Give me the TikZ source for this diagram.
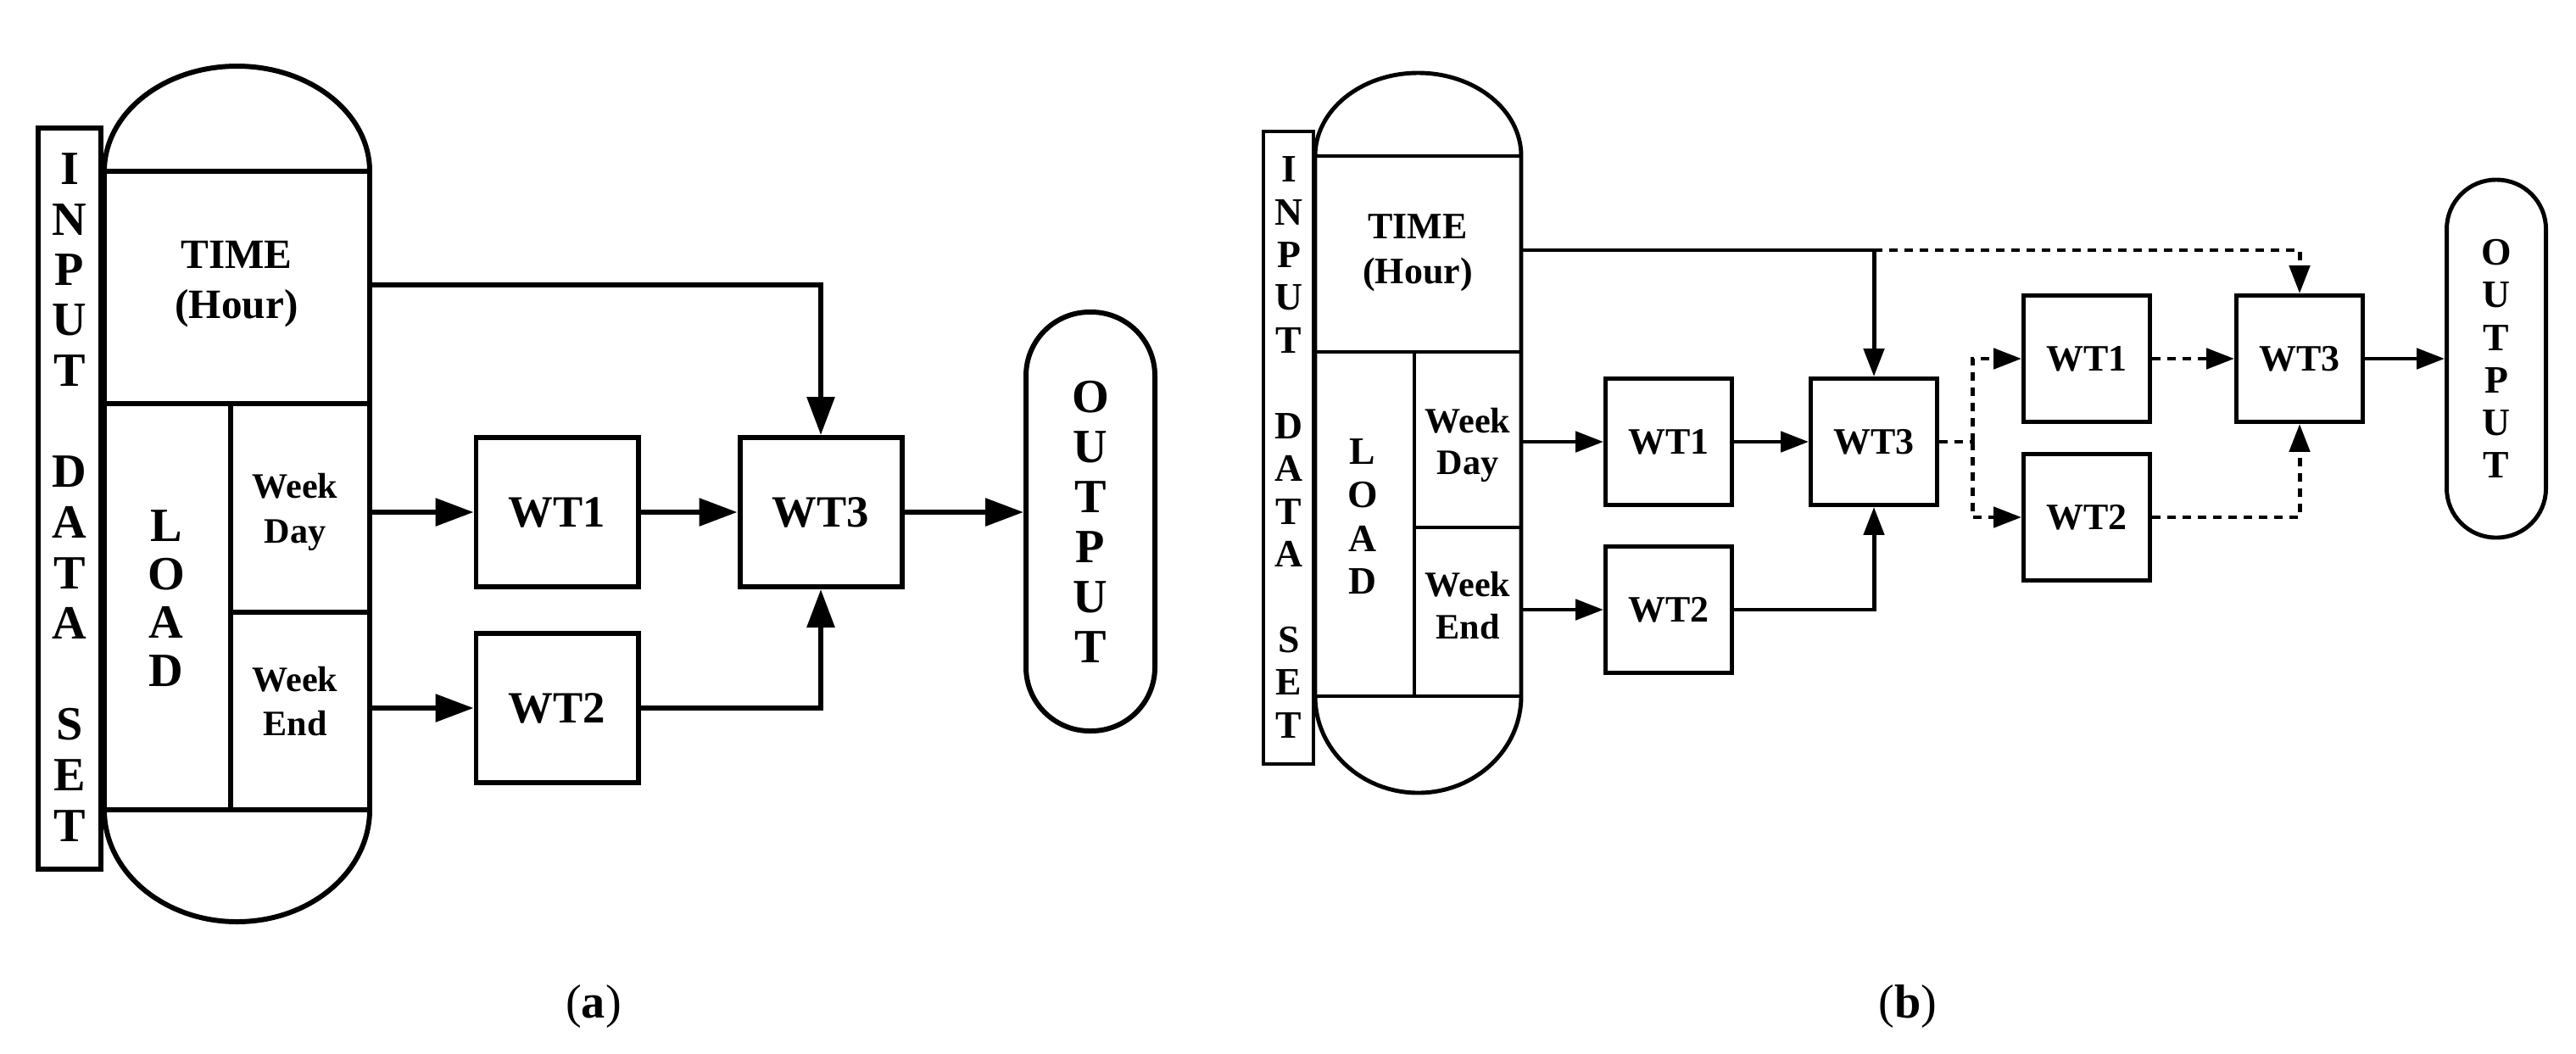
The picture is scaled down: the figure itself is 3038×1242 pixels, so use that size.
\documentclass[tikz,border=0pt]{standalone}
\usepackage{fontspec}
\setmainfont{Liberation Serif}
\usetikzlibrary{arrows.meta}

\tikzset{
  linea/.style={line width=1.7pt},
  lineb/.style={line width=1.4pt},
  arra/.style={linea,-{Triangle[length=4.5mm,width=3.2mm]}},
  arrb/.style={lineb,-{Triangle[length=3.3mm,width=2.4mm]}},
  dots/.style={dash pattern=on 1mm off 0.8mm},
  boxa/.style={draw,linea,minimum width=19.1mm,minimum height=17.6mm,inner sep=0pt,font=\bfseries\fontsize{15}{15}\selectfont},
  boxb/.style={draw,lineb,minimum width=14.9mm,minimum height=14.9mm,inner sep=0pt,font=\bfseries\fontsize{12.5}{12.5}\selectfont},
  lettera/.style={font=\bfseries\fontsize{16}{16}\selectfont,inner sep=0pt},
  letterb/.style={font=\bfseries\fontsize{13}{13}\selectfont,inner sep=0pt},
}

\begin{document}
\begin{tikzpicture}[x=0.1mm,y=-0.1mm]
    \useasboundingbox (0,0) rectangle (3038,1242);

    % (a)
    \draw[linea] (45,151) rectangle (119,1025);
    \foreach \ch [count=\i from 0] in {I,N,P,U,T,,D,A,T,A,,S,E,T}
        \node[lettera] at (82,199+59.6*\i) {\ch};
    \draw[linea] (123,202) -- (123,955) arc[start angle=180,end angle=0,x radius=156.5,y radius=132]
        -- (436,202) arc[start angle=0,end angle=-180,x radius=156.5,y radius=124] -- cycle;
    \draw[linea] (123,202) -- (436,202);
    \draw[linea] (123,476) -- (436,476);
    \draw[linea] (123,955) -- (436,955);
    \draw[linea] (272,476) -- (272,955);
    \draw[linea] (272,722) -- (436,722);
    \node[align=center,font=\bfseries\fontsize{14}{17}\selectfont] (timeA) at (279,335) {TIME\\(Hour)};
    \foreach \ch [count=\i from 0] in {L,O,A,D}
        \node[lettera] at (196,620+57*\i) {\ch};
    \node[align=center,font=\bfseries\fontsize{12}{15}\selectfont] (wdA) at (348,604) {Week\\Day};
    \node[align=center,font=\bfseries\fontsize{12}{15}\selectfont] (weA) at (348,827) {Week\\End};
    \coordinate (tA) at (436,336);
    \coordinate (dA) at (436,604);
    \coordinate (eA) at (436,835);

    \node[boxa] (wt1A) at (657,604) {WT1};
    \node[boxa] (wt3A) at (968,604) {WT3};
    \node[boxa] (wt2A) at (657,835) {WT2};
    \node[draw,linea,rounded corners=7.5mm,minimum width=15.2mm,minimum height=49.4mm,align=center,
          font=\bfseries\fontsize{16}{16.8}\selectfont] (outA) at (1286,615) {O\\U\\T\\P\\U\\T};

    \draw[arra] (dA) -- (wt1A.west);
    \draw[arra] (eA) -- (wt2A.west);
    \draw[arra] (wt1A) -- (wt3A);
    \draw[arra] (wt3A.east) -- (wt3A.east -| outA.west);
    \draw[arra] (tA) -| (wt3A.north);
    \draw[arra] (wt2A.east) -| (wt3A.south);
    \node[font=\fontsize{16}{16}\selectfont] (capA) at (700,1187) {(\textbf{a})};

    % (b)
    \draw[lineb] (1490,155) rectangle (1549,901);
    \foreach \ch [count=\i from 0] in {I,N,P,U,T,,D,A,T,A,,S,E,T}
        \node[letterb] at (1520,200+50.4*\i) {\ch};
    \draw[lineb] (1551,184) -- (1551,821) arc[start angle=180,end angle=0,x radius=121.5,y radius=114]
        -- (1794,184) arc[start angle=0,end angle=-180,x radius=121.5,y radius=98] -- cycle;
    \draw[lineb] (1551,184) -- (1794,184);
    \draw[lineb] (1551,415) -- (1794,415);
    \draw[lineb] (1551,821) -- (1794,821);
    \draw[lineb] (1668,415) -- (1668,821);
    \draw[lineb] (1668,622) -- (1794,622);
    \node[align=center,font=\bfseries\fontsize{12.5}{15}\selectfont] (timeB) at (1672,298) {TIME\\(Hour)};
    \foreach \ch [count=\i from 0] in {L,O,A,D}
        \node[letterb] at (1607,533+51*\i) {\ch};
    \node[align=center,font=\bfseries\fontsize{12}{14}\selectfont] (wdB) at (1731,525) {Week\\Day};
    \node[align=center,font=\bfseries\fontsize{12}{14}\selectfont] (weB) at (1731,714) {Week\\End};
    \coordinate (tB) at (1794,295);
    \coordinate (dB) at (1794,521);
    \coordinate (eB) at (1794,719);

    \node[boxb] (wt1B) at (1968,521) {WT1};
    \node[boxb] (wt3B) at (2210,521) {WT3};
    \node[boxb] (wt2B) at (1968,719) {WT2};
    \node[boxb] (wt1C) at (2461,423) {WT1};
    \node[boxb] (wt3C) at (2712,423) {WT3};
    \node[boxb] (wt2C) at (2461,610) {WT2};
    \node[draw,lineb,rounded corners=5.8mm,minimum width=11.7mm,minimum height=42.2mm,align=center,
          font=\bfseries\fontsize{13}{14.3}\selectfont] (outB) at (2944,423) {O\\U\\T\\P\\U\\T};
    \coordinate (jB) at (2210,295);
    \coordinate (sB) at (2326,521);

    \draw[arrb] (dB) -- (wt1B.west);
    \draw[arrb] (eB) -- (wt2B.west);
    \draw[arrb] (wt1B) -- (wt3B);
    \draw[arrb] (tB) -| (wt3B.north);
    \draw[arrb] (wt2B.east) -| (wt3B.south);
    \draw[arrb,dots] (jB) -| (wt3C.north);
    \draw[lineb,dots] (wt3B.east) -- (sB);
    \draw[arrb,dots] (sB) |- (wt1C.west);
    \draw[arrb,dots] (sB) |- (wt2C.west);
    \draw[arrb,dots] (wt1C) -- (wt3C);
    \draw[arrb,dots] (wt2C.east) -| (wt3C.south);
    \draw[arrb] (wt3C) -- (outB);
    \node[font=\fontsize{16}{16}\selectfont] (capB) at (2250,1187) {(\textbf{b})};
\end{tikzpicture}
\end{document}
